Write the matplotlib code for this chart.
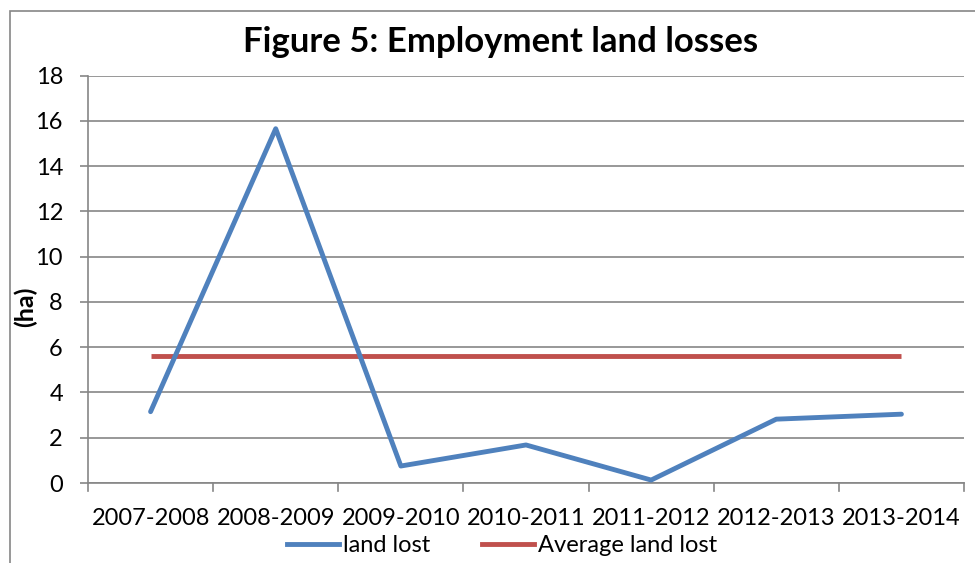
import matplotlib
matplotlib.use("Agg")
import matplotlib.pyplot as plt
from matplotlib.patches import Rectangle
from matplotlib.lines import Line2D

# data
periods = ["2007-2008", "2008-2009", "2009-2010", "2010-2011",
           "2011-2012", "2012-2013", "2013-2014"]
land_lost = [3.15, 15.65, 0.75, 1.68, 0.13, 2.82, 3.04]
average_lost = [5.6] * len(periods)

blue = "#4F81BD"
red = "#C0504D"
grid_col = "#868686"

plt.rcParams['font.family'] = ['Lato', 'DejaVu Sans']

fig = plt.figure(figsize=(9.75, 5.63), dpi=100)
ax = fig.add_axes([88/975, 80/563, (964-88)/975, (483-75.5)/563])

# outer chart border
fig.patches.append(Rectangle((10/975, -0.1), 1.2, 1 - 11/563 + 0.1,
                             transform=fig.transFigure, fill=False,
                             edgecolor=grid_col, linewidth=1.2))

x = list(range(len(periods)))
ax.plot(x, land_lost, color=blue, lw=3.5, solid_capstyle='round', zorder=3)
ax.plot(x, average_lost, color=red, lw=3.5, solid_capstyle='butt', zorder=2)

ax.set_xlim(-0.5, len(periods) - 0.5)
ax.set_ylim(0, 18)
ax.set_yticks(range(0, 19, 2))
ax.set_xticks(x)
ax.set_xticklabels(periods, fontsize=17)
ax.tick_params(axis='x', length=0, pad=18)
ax.tick_params(axis='y', labelsize=17, length=6, color=grid_col, width=1.2, pad=12)

# category boundary ticks
for b in range(len(periods) + 1):
    ax.plot([b - 0.5, b - 0.5], [0, -0.35], color=grid_col, lw=1.2, clip_on=False)

ax.grid(axis='y', color=grid_col, lw=1.2)
ax.set_axisbelow(True)
for s in ['top', 'right']:
    ax.spines[s].set_visible(False)
for s in ['left', 'bottom']:
    ax.spines[s].set_color(grid_col)
    ax.spines[s].set_linewidth(1.2)

ax.set_ylabel("(ha)", fontsize=18, fontweight='bold')
ax.yaxis.set_label_coords(-0.058, 0.432)
fig.text(0.513, 1 - 42/563, "Figure 5: Employment land losses",
         ha='center', va='center', fontsize=25, fontweight='bold')

handles = [Line2D([], [], color=blue, lw=3.5), Line2D([], [], color=red, lw=3.5)]
fig.legend(handles, ["land lost", "Average land lost"], loc='center',
           bbox_to_anchor=(0.515, 1 - 546/563), ncol=2, frameon=False,
           fontsize=17, handlelength=2.2, handletextpad=0.15, columnspacing=2.2,
           borderpad=0)

fig.savefig("out.png", dpi=100)
